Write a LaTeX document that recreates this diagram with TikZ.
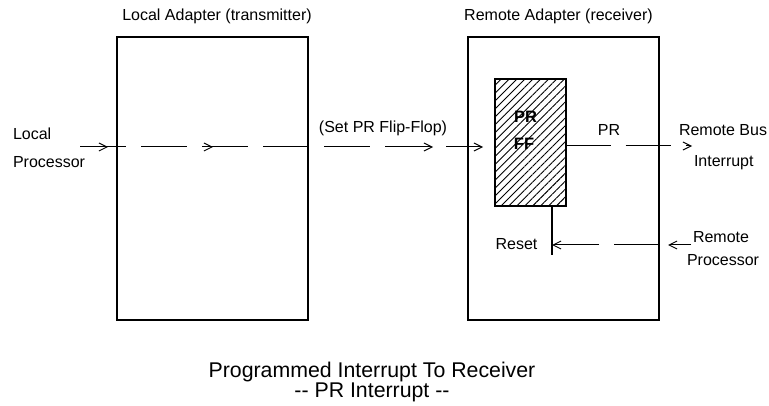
\documentclass[tikz,border=0pt]{standalone}
\usepackage{fontspec}
\setmainfont{Liberation Sans}
\usetikzlibrary{arrows.meta,patterns.meta,decorations.markings}
\begin{document}
\begin{tikzpicture}[x=1pt,y=-1pt,
  every node/.style={font=\fontsize{16}{19}\selectfont, inner sep=0pt, outer sep=0pt},
  adapter/.style={draw, line width=2pt, minimum width=191pt, minimum height=283pt},
  ffbox/.style={draw, line width=2pt, minimum width=71pt, minimum height=127pt,
    pattern={Lines[angle=45,distance=5.6pt,line width=0.9pt]}},
  sig/.style={line width=1pt},
  tip/.style={-{Straight Barb[length=8pt,width=8pt]}},
  dsh/.style={dash pattern=on 46pt off 15pt},
  dshb/.style={dash pattern=on 45pt off 15pt},
  txt/.style={anchor=base},
  txtl/.style={anchor=base west},
  big/.style={font=\fontsize{21.3}{25}\selectfont}]
\useasboundingbox (0,0) rectangle (769,406);
% boxes
\node[adapter] (la) at (212,178.5) {};
\node[adapter] (ra) at (563.5,178.5) {};
\node[ffbox] (ff) at (530,142.75) {};
% titles
\node[txt] (lat) at (217,21) {Local Adapter (transmitter)};
\node[txt] (rat) at (558.5,21) {Remote Adapter (receiver)};
% FF text
\node[txt,font=\fontsize{16.5}{19}\selectfont\bfseries] (ffpr) at (525.5,123) {PR};
\node[txt,font=\fontsize{16.5}{19}\selectfont\bfseries] (ffff) at (524,150) {FF};
% labels
\node[txtl] (lp1) at (13,140) {Local};
\node[txtl] (lp2) at (13,168) {Processor};
\node[txt] (setpr) at (383,133) {(Set PR Flip-Flop)};
\node[txt] (prl) at (609,136) {PR};
\node[txtl] (rb1) at (679,136) {Remote Bus};
\node[txtl] (rb2) at (694,167) {Interrupt};
\node[txt] (rstl) at (516.5,250) {Reset};
\node[txtl] (rp1) at (693,243) {Remote};
\node[txtl] (rp2) at (687,266) {Processor};
\node[txt,big] (cap1) at (372,377) {Programmed Interrupt To Receiver};
\node[txt,big] (cap2) at (372,397) {-\kern0pt- PR Interrupt -\kern0pt-};
% coordinates
\coordinate (lpin) at (80,147);
\coordinate (ffin) at (483,147);
\coordinate (rbout) at (692,146);
\coordinate (rst) at (552,255);
\coordinate (rpin) at (691,245);
\coordinate (rpa) at (668,245);
% main signal
\draw[sig,dsh,tip,postaction={decorate},
  decoration={markings,
    mark=at position 28pt with {\arrow{Straight Barb[length=8pt,width=8pt]}},
    mark=at position 133pt with {\arrow{Straight Barb[length=8pt,width=8pt]}},
    mark=at position 353pt with {\arrow{Straight Barb[length=8pt,width=8pt]}}}]
  (lpin) -- (ffin);
% PR output
\draw[sig,dshb,tip] (ff.east |- rbout) -- (rbout);
% reset line
\draw[line width=2pt] (ff.south -| rst) -- (rst);
% remote processor
\draw[sig,tip] (rpin) -- (rpa);
\draw[sig,dshb,tip] (ra.east |- rpin) -- (rst |- rpin);
\end{tikzpicture}
\end{document}
